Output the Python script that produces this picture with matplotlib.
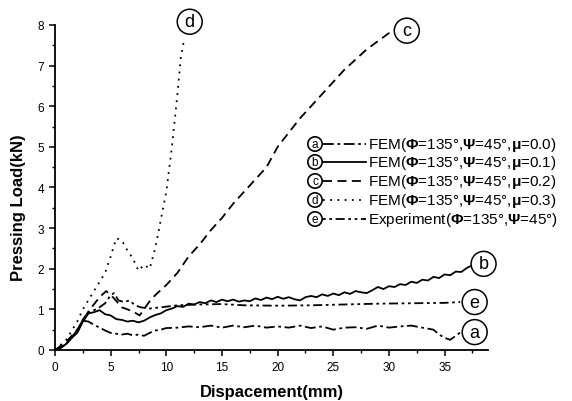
import matplotlib
matplotlib.use('agg')
import matplotlib.pyplot as plt
from matplotlib.lines import Line2D
from matplotlib.ticker import MultipleLocator

plt.rcParams['font.family'] = ['Liberation Sans', 'DejaVu Sans']
plt.rcParams['mathtext.fontset'] = 'custom'
plt.rcParams['mathtext.rm'] = 'Liberation Sans'
plt.rcParams['mathtext.bf'] = 'Liberation Sans:bold'

# curve a : FEM mu=0.0
a_x = [0, 0.5, 1, 1.5, 2, 2.5, 3, 3.5, 4, 4.5, 5, 5.5, 6, 6.5, 7, 7.5, 8, 8.5, 9, 9.5, 10,
       11, 12, 13, 14, 15, 16, 17, 18, 19, 20, 21, 22, 23, 24, 25, 26, 27, 28, 29, 30,
       31, 32, 33, 34, 34.5, 35, 35.5, 36, 36.4]
a_y = [0, 0.05, 0.15, 0.3, 0.5, 0.72, 0.7, 0.62, 0.55, 0.48, 0.42, 0.4, 0.38, 0.4, 0.36, 0.38, 0.35, 0.42, 0.48, 0.5, 0.54,
       0.55, 0.58, 0.56, 0.6, 0.55, 0.6, 0.56, 0.6, 0.55, 0.58, 0.55, 0.6, 0.54, 0.58, 0.5, 0.55, 0.56, 0.52, 0.6, 0.55,
       0.58, 0.6, 0.55, 0.5, 0.38, 0.3, 0.25, 0.35, 0.43]

# curve b : FEM mu=0.1
b_x = [0, 0.5, 1, 1.5, 2, 2.5, 3, 3.5, 4, 4.5, 5, 5.5, 6, 6.5, 7, 7.5, 8, 8.5, 9, 9.5,
       10, 10.5, 11, 11.5, 12, 12.5, 13, 13.5, 14, 14.5, 15, 15.5, 16, 16.5, 17, 17.5, 18, 18.5, 19, 19.5,
       20, 20.5, 21, 21.5, 22, 22.5, 23, 23.5, 24, 24.5, 25, 25.5, 26, 26.5, 27, 27.5, 28, 28.5, 29, 29.5,
       30, 30.5, 31, 31.5, 32, 32.5, 33, 33.5, 34, 34.5, 35, 35.5, 36, 36.5, 37, 37.3]
b_y = [0, 0.05, 0.15, 0.3, 0.42, 0.7, 0.9, 0.93, 0.98, 0.88, 0.85, 0.76, 0.74, 0.7, 0.72, 0.68, 0.72, 0.8, 0.86, 0.9,
       0.98, 1.02, 1.08, 1.06, 1.14, 1.12, 1.18, 1.15, 1.22, 1.18, 1.24, 1.2, 1.24, 1.19, 1.22, 1.2, 1.27, 1.23, 1.29, 1.25,
       1.31, 1.26, 1.3, 1.25, 1.22, 1.3, 1.33, 1.3, 1.37, 1.33, 1.39, 1.35, 1.42, 1.38, 1.45, 1.42, 1.4, 1.47, 1.55, 1.5,
       1.57, 1.55, 1.62, 1.6, 1.68, 1.65, 1.73, 1.71, 1.8, 1.77, 1.86, 1.84, 1.93, 1.92, 2.02, 2.06]

# curve c : FEM mu=0.2
c_x = [0, 1, 2, 3, 4, 4.6, 5.2, 6, 7, 7.6, 8.5, 9, 10, 11, 12, 13, 14, 15, 16, 17, 18, 19, 20,
       21, 22, 23, 24, 25, 26, 27, 28, 29, 30, 30.6]
c_y = [0, 0.2, 0.5, 0.95, 1.3, 1.45, 1.3, 1.05, 0.95, 0.85, 1.2, 1.35, 1.6, 1.9, 2.3, 2.6, 2.95, 3.25, 3.6, 3.9, 4.2, 4.5, 5.0,
       5.35, 5.7, 6.0, 6.3, 6.6, 6.9, 7.15, 7.4, 7.6, 7.8, 7.85]

# curve d : FEM mu=0.3
d_x = [0, 1, 2, 2.5, 3.6, 4.5, 5, 5.5, 6, 6.5, 7, 7.5, 8, 8.5, 9, 9.5, 10, 10.5, 11, 11.3, 11.6]
d_y = [0, 0.25, 0.7, 1.0, 1.5, 1.9, 2.3, 2.75, 2.7, 2.45, 2.25, 1.95, 2.1, 2.0, 2.5, 3.2, 3.9, 5.0, 6.3, 7.2, 7.65]

# curve e : experiment
e_x = [0, 1, 2, 2.5, 3, 3.5, 4, 4.5, 5, 5.3, 5.7, 6.2, 6.7, 7.2, 7.7, 8.5, 9.5, 11, 13, 15, 17, 20, 23, 26, 29, 32, 35, 36.4]
e_y = [0, 0.15, 0.45, 0.75, 0.92, 0.98, 1.05, 1.15, 1.35, 1.4, 1.22, 1.18, 1.22, 1.1, 1.05, 1.02, 1.05, 1.1, 1.12, 1.13, 1.1, 1.09, 1.1, 1.12, 1.14, 1.15, 1.16, 1.18]

letters = ['a', 'b', 'c', 'd', 'e']
labels = [r'FEM($\mathbf{\Phi}$=135°,$\mathbf{\Psi}$=45°,$\mathbf{\mu}$=0.0)',
          r'FEM($\mathbf{\Phi}$=135°,$\mathbf{\Psi}$=45°,$\mathbf{\mu}$=0.1)',
          r'FEM($\mathbf{\Phi}$=135°,$\mathbf{\Psi}$=45°,$\mathbf{\mu}$=0.2)',
          r'FEM($\mathbf{\Phi}$=135°,$\mathbf{\Psi}$=45°,$\mathbf{\mu}$=0.3)',
          r'Experiment($\mathbf{\Phi}$=135°,$\mathbf{\Psi}$=45°)']
styles = [(0, (6, 2, 1.5, 2)), '-', (0, (5, 3)), (0, (1, 3)), (0, (1.5, 2, 1.5, 2, 5, 2))]
# where the circled letter sits next to each curve end
tag_pos = [(37.7, 0.44), (38.5, 2.12), (31.6, 7.86), (12.1, 8.08), (37.7, 1.18)]

fig = plt.figure(figsize=(5.72, 4.02), dpi=100)
ax = fig.add_axes([0.0962, 0.1269, 0.757, 0.8085])

series = [(a_x, a_y), (b_x, b_y), (c_x, c_y), (d_x, d_y), (e_x, e_y)]
for (xs, ys), st in zip(series, styles):
    ax.plot(xs, ys, color='black', lw=1.3, linestyle=st)

for lt, (tx, ty) in zip(letters, tag_pos):
    ax.text(tx, ty, lt, fontsize=13, ha='center', va='center', clip_on=False,
            bbox=dict(boxstyle='circle,pad=0.22', fc='white', ec='black', lw=1.1))

ax.set_xlim(0, 38.9)
ax.set_ylim(0, 8)
ax.xaxis.set_major_locator(MultipleLocator(5))
ax.xaxis.set_minor_locator(MultipleLocator(2.5))
ax.yaxis.set_major_locator(MultipleLocator(1))
ax.yaxis.set_minor_locator(MultipleLocator(0.5))
ax.spines['top'].set_visible(False)
ax.spines['right'].set_visible(False)
ax.spines['left'].set_linewidth(1.3)
ax.spines['bottom'].set_linewidth(1.3)
ax.tick_params(which='major', direction='out', length=4.5, width=1.1, labelsize=8.5, pad=3.5)
ax.tick_params(which='minor', direction='out', length=2.5, width=1.0)
ax.set_xlabel('Dispacement(mm)', fontsize=12, fontweight='bold')
ax.set_ylabel('Pressing Load(kN)', fontsize=12, fontweight='bold')
ax.xaxis.set_label_coords(0.5, -0.105)
ax.yaxis.set_label_coords(-0.067, 0.44)

# hand-placed legend with circled letters
row_y = [145, 163, 182, 201, 220]
for lt, lab, st, ry in zip(letters, labels, styles, row_y):
    yf = 1 - ry / 402
    fig.text(315 / 572, yf, lt, fontsize=8.5, ha='center', va='center',
             bbox=dict(boxstyle='circle,pad=0.1', fc='white', ec='black', lw=1.2))
    fig.add_artist(Line2D([323 / 572, 366 / 572], [yf, yf], transform=fig.transFigure,
                          color='black', lw=1.3, linestyle=st))
    fig.text(368 / 572, yf, lab, fontsize=11, ha='left', va='center')

fig.savefig('out.png', dpi=100)
